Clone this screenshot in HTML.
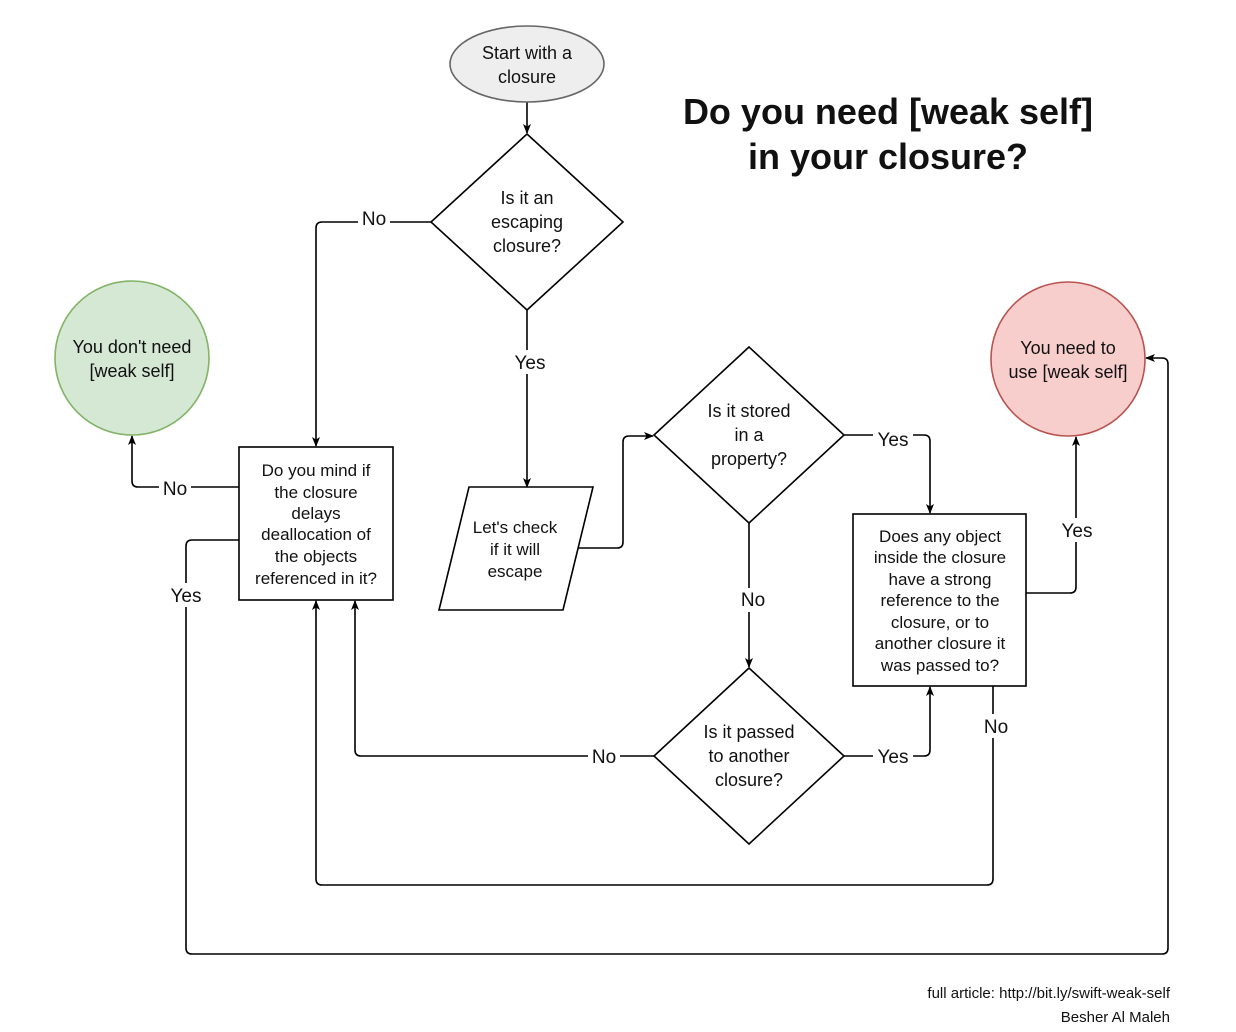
<!DOCTYPE html>
<html><head><meta charset="utf-8"><style>
html,body{margin:0;padding:0;background:#fff;}
svg{display:block;}
text{font-family:"Liberation Sans",Arial,sans-serif;fill:#111;}
.n{font-size:18px;text-anchor:middle;}
.l{font-size:19px;text-anchor:middle;}
</style></head><body>
<svg width="1236" height="1032" viewBox="0 0 1236 1032" xmlns="http://www.w3.org/2000/svg">
<defs><marker id="a" markerWidth="10" markerHeight="10" refX="9" refY="5" orient="auto" markerUnits="userSpaceOnUse"><path d="M0,1 L10,5 L0,9 L2.5,5 Z" fill="#000"/></marker></defs>
<g fill="none" stroke="#000" stroke-width="1.6">
<!-- connectors -->
<path d="M527,102 V133" marker-end="url(#a)"/>
<path d="M431,222 H322 Q316,222 316,228 V446" marker-end="url(#a)"/>
<path d="M527,310 V487" marker-end="url(#a)"/>
<path d="M578,548 H617 Q623,548 623,542 V442 Q623,436 629,436 H653" marker-end="url(#a)"/>
<path d="M844,435 H924 Q930,435 930,441 V513" marker-end="url(#a)"/>
<path d="M749,523 V667" marker-end="url(#a)"/>
<path d="M654,756 H361 Q355,756 355,750 V601" marker-end="url(#a)"/>
<path d="M844,756 H924 Q930,756 930,750 V687" marker-end="url(#a)"/>
<path d="M1026,593 H1070 Q1076,593 1076,587 V437" marker-end="url(#a)"/>
<path d="M993,686 V879 Q993,885 987,885 H322 Q316,885 316,879 V601" marker-end="url(#a)"/>
<path d="M239,487 H138 Q132,487 132,481 V436" marker-end="url(#a)"/>
<path d="M239,540 H192 Q186,540 186,546 V948 Q186,954 192,954 H1162 Q1168,954 1168,948 V364 Q1168,358 1162,358 H1146" marker-end="url(#a)"/>
</g>
<!-- label backgrounds -->
<g fill="#fff">
<rect x="358" y="206" width="32" height="24"/>
<rect x="511" y="350" width="38" height="24"/>
<rect x="873" y="426" width="40" height="24"/>
<rect x="737" y="588" width="32" height="24"/>
<rect x="588" y="744" width="32" height="24"/>
<rect x="873" y="744" width="40" height="24"/>
<rect x="1058" y="518" width="38" height="24"/>
<rect x="980" y="714" width="32" height="24"/>
<rect x="159" y="476" width="32" height="24"/>
<rect x="167" y="583" width="38" height="24"/>
</g>
<!-- shapes -->
<ellipse cx="527" cy="64" rx="77" ry="38" fill="#eeeeee" stroke="#666" stroke-width="1.6"/>
<polygon points="527,134 623,222 527,310 431,222" fill="#fff" stroke="#000" stroke-width="1.6"/>
<rect x="239" y="447" width="154" height="153" fill="#fff" stroke="#000" stroke-width="1.6"/>
<circle cx="132" cy="358" r="77" fill="#d5e8d4" stroke="#82b366" stroke-width="1.6"/>
<polygon points="469,487 593,487 563,610 439,610" fill="#fff" stroke="#000" stroke-width="1.6"/>
<polygon points="749,347 844,435 749,523 654,435" fill="#fff" stroke="#000" stroke-width="1.6"/>
<polygon points="749,668 844,756 749,844 654,756" fill="#fff" stroke="#000" stroke-width="1.6"/>
<rect x="853" y="514" width="173" height="172" fill="#fff" stroke="#000" stroke-width="1.6"/>
<circle cx="1068" cy="359" r="77" fill="#f8cecc" stroke="#b85450" stroke-width="1.6"/>
<!-- text -->
<text class="n" x="527" y="59">Start with a</text>
<text class="n" x="527" y="83">closure</text>
<text x="888" y="124" style="font-size:36px;font-weight:bold;text-anchor:middle">Do you need [weak self]</text>
<text x="888" y="169" style="font-size:36px;font-weight:bold;text-anchor:middle">in your closure?</text>
<text class="n" x="527" y="204">Is it an</text>
<text class="n" x="527" y="228">escaping</text>
<text class="n" x="527" y="252">closure?</text>
<text class="n" x="132" y="353">You don't need</text>
<text class="n" x="132" y="377">[weak self]</text>
<text class="n" x="1068" y="354">You need to</text>
<text class="n" x="1068" y="378">use [weak self]</text>
<g style="font-size:17px">
<text class="n" x="316" y="476" style="font-size:17px">Do you mind if</text>
<text class="n" x="316" y="498" style="font-size:17px">the closure</text>
<text class="n" x="316" y="519" style="font-size:17px">delays</text>
<text class="n" x="316" y="540" style="font-size:17px">deallocation of</text>
<text class="n" x="316" y="562" style="font-size:17px">the objects</text>
<text class="n" x="316" y="584" style="font-size:17px">referenced in it?</text>
<text class="n" x="515" y="533" style="font-size:17px">Let's check</text>
<text class="n" x="515" y="555" style="font-size:17px">if it will</text>
<text class="n" x="515" y="577" style="font-size:17px">escape</text>
<text class="n" x="940" y="542" style="font-size:17px">Does any object</text>
<text class="n" x="940" y="563" style="font-size:17px">inside the closure</text>
<text class="n" x="940" y="585" style="font-size:17px">have a strong</text>
<text class="n" x="940" y="606" style="font-size:17px">reference to the</text>
<text class="n" x="940" y="628" style="font-size:17px">closure, or to</text>
<text class="n" x="940" y="649" style="font-size:17px">another closure it</text>
<text class="n" x="940" y="671" style="font-size:17px">was passed to?</text>
</g>
<text class="n" x="749" y="417">Is it stored</text>
<text class="n" x="749" y="441">in a</text>
<text class="n" x="749" y="465">property?</text>
<text class="n" x="749" y="738">Is it passed</text>
<text class="n" x="749" y="762">to another</text>
<text class="n" x="749" y="786">closure?</text>
<text class="l" x="374" y="225">No</text>
<text class="l" x="530" y="369">Yes</text>
<text class="l" x="893" y="446">Yes</text>
<text class="l" x="753" y="606">No</text>
<text class="l" x="604" y="763">No</text>
<text class="l" x="893" y="763">Yes</text>
<text class="l" x="1077" y="537">Yes</text>
<text class="l" x="996" y="733">No</text>
<text class="l" x="175" y="495">No</text>
<text class="l" x="186" y="602">Yes</text>
<text x="1170" y="998" style="font-size:15px;text-anchor:end">full article: http://bit.ly/swift-weak-self</text>
<text x="1170" y="1022" style="font-size:15px;text-anchor:end">Besher Al Maleh</text>
</svg>
</body></html>
